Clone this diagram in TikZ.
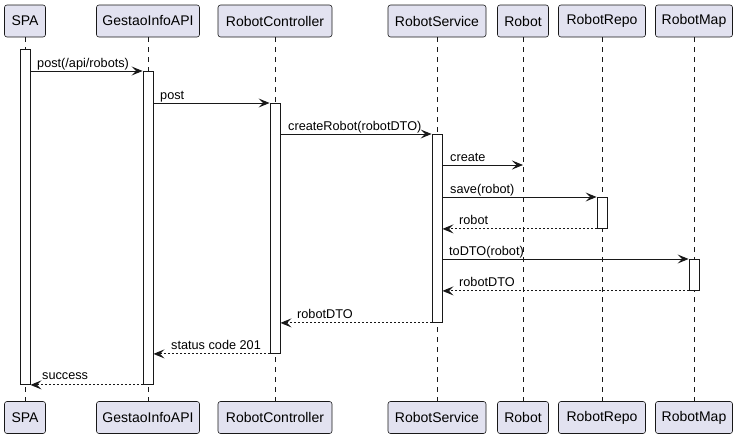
\documentclass[tikz,border=0pt]{standalone}
\usepackage{fontspec}
\setmainfont{Liberation Sans}
\usetikzlibrary{arrows.meta}
\definecolor{pfill}{HTML}{E2E2F0}
\definecolor{pline}{HTML}{181818}
\tikzset{
 part/.style={draw=pline, fill=pfill, rounded corners=2.5pt, line width=0.6pt, minimum height=32pt, inner sep=0pt, font=\fontsize{14}{16}\selectfont, text=black},
 life/.style={draw=pline, line width=0.5pt, dash pattern=on 5pt off 5pt},
 actbar/.style={draw=pline, fill=white, line width=0.9pt, minimum width=10pt, inner sep=0pt, anchor=north},
 msg/.style={draw=pline, line width=0.9pt, -{Stealth[length=11pt,width=9pt,inset=4.5pt]}},
 ret/.style={msg, dash pattern=on 2pt off 2pt},
 lbl/.style={font=\fontsize{12.7}{15}\selectfont, anchor=base west, inner sep=0pt, text=black},
}
\begin{document}
\begin{tikzpicture}[x=1pt,y=-1pt]
\path[use as bounding box] (0,0) rectangle (739,439);
% participants top
\node[part, minimum width=41pt]  (tSPA) at (25,21) {SPA};
\node[part, minimum width=103pt] (tGI)  at (148,21) {GestaoInfoAPI};
\node[part, minimum width=114pt] (tRC)  at (275,21) {RobotController};
\node[part, minimum width=98pt]  (tRS)  at (437,21) {RobotService};
\node[part, minimum width=51pt]  (tR)   at (523,21) {Robot};
\node[part, minimum width=87pt]  (tRR)  at (602,21) {RobotRepo};
\node[part, minimum width=77pt]  (tRM)  at (694,21) {RobotMap};
% participants bottom
\node[part, minimum width=41pt]  (bSPA) at (25,417.5) {SPA};
\node[part, minimum width=103pt] (bGI)  at (148,417.5) {GestaoInfoAPI};
\node[part, minimum width=114pt] (bRC)  at (275,417.5) {RobotController};
\node[part, minimum width=98pt]  (bRS)  at (437,417.5) {RobotService};
\node[part, minimum width=51pt]  (bR)   at (523,417.5) {Robot};
\node[part, minimum width=87pt]  (bRR)  at (602,417.5) {RobotRepo};
\node[part, minimum width=77pt]  (bRM)  at (694,417.5) {RobotMap};
% lifelines
\foreach \p in {SPA,GI,RC,RS,R,RR,RM}{\draw[life] (t\p.south) -- (b\p.north);}
% activation bars
\node[actbar, minimum height=335pt] (aSPA) at (25,49) {};
\node[actbar, minimum height=313pt] (aGI)  at (148,71) {};
\node[actbar, minimum height=250pt] (aRC)  at (275,103) {};
\node[actbar, minimum height=188pt] (aRS)  at (437,134) {};
\node[actbar, minimum height=31pt]  (aRR)  at (602,197) {};
\node[actbar, minimum height=31pt]  (aRM)  at (694,259) {};
\coordinate (cR) at (523,165);
% messages
\draw[msg] (aSPA.east |- aGI.north) -- (aGI.north west);
\node[lbl] (l1) at (37,67) {post(/api/robots)};
\draw[msg] (aGI.east |- aRC.north) -- (aRC.north west);
\node[lbl] (l2) at (160,99) {post};
\draw[msg] (aRC.east |- aRS.north) -- (aRS.north west);
\node[lbl] (l3) at (288,130) {createRobot(robotDTO)};
\draw[msg] (aRS.east |- cR) -- (cR);
\node[lbl] (l4) at (450,161) {create};
\draw[msg] (aRS.east |- aRR.north) -- (aRR.north west);
\node[lbl] (l5) at (450,193) {save(robot)};
\draw[ret] (aRR.south west) -- (aRS.east |- aRR.south);
\node[lbl] (l6) at (459,224) {robot};
\draw[msg] (aRS.east |- aRM.north) -- (aRM.north west);
\node[lbl] (l7) at (449,255) {toDTO(robot)};
\draw[ret] (aRM.south west) -- (aRS.east |- aRM.south);
\node[lbl] (l8) at (459,286) {robotDTO};
\draw[ret] (aRS.south west) -- (aRC.east |- aRS.south);
\node[lbl] (l9) at (297,318) {robotDTO};
\draw[ret] (aRC.south west) -- (aGI.east |- aRC.south);
\node[lbl] (l10) at (171,349) {status code 201};
\draw[ret] (aGI.south west) -- (aSPA.east |- aGI.south);
\node[lbl] (l11) at (42,379) {success};
\end{tikzpicture}
\end{document}
